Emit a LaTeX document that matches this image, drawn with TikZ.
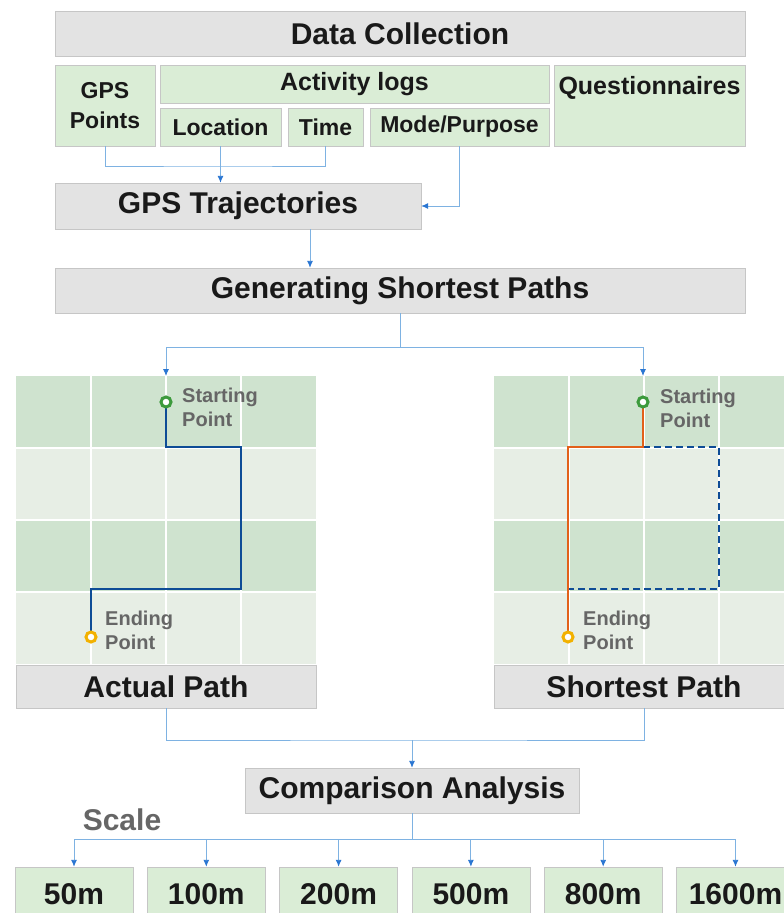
\documentclass[tikz,border=0pt]{standalone}
\usepackage{fontspec}
\setmainfont{Liberation Sans}
\usetikzlibrary{arrows.meta}

\definecolor{boxgray}{HTML}{E3E3E3}
\definecolor{boxline}{HTML}{C6C6C6}
\definecolor{boxgreen}{HTML}{DAEDD6}
\definecolor{griddark}{HTML}{CFE3CF}
\definecolor{gridlight}{HTML}{E7EEE5}
\definecolor{linkblue}{HTML}{7EB2E2}
\definecolor{tipblue}{HTML}{2A76D2}
\definecolor{pathblue}{HTML}{0E4C96}
\definecolor{pathorange}{HTML}{E2601A}
\definecolor{startgreen}{HTML}{3C9A3C}
\definecolor{endyellow}{HTML}{F2B100}
\definecolor{labelgray}{HTML}{666666}

\begin{document}
\begin{tikzpicture}[x=1pt, y=-1pt]
  \tikzstyle{head}=[draw=boxline, fill=boxgray, inner sep=0pt, text=black!90, font=\fontsize{30}{34}\selectfont\bfseries]
  \tikzstyle{sub}=[draw=boxline, fill=boxgreen, inner sep=0pt, text=black!90, font=\fontsize{23}{30}\selectfont\bfseries]
  \tikzstyle{link}=[draw=linkblue, line width=0.9pt]
  \tikzstyle{tip}=[-{Latex[color=tipblue, length=7pt, width=6pt]}]
  \tikzstyle{ptlabel}=[inner sep=0pt, align=left, text=labelgray, font=\fontsize{20}{24}\selectfont\bfseries]
  \tikzstyle{startpt}=[circle, draw=startgreen, fill=white, line width=3pt, minimum size=10pt, inner sep=0pt]
  \tikzstyle{endpt}=[circle, draw=endyellow, fill=white, line width=3pt, minimum size=10pt, inner sep=0pt]

  \clip (0,0) rectangle (784,913);

  % data collection
  \node[head, minimum width=690, minimum height=45] (collect) at (400,33.5) {Data Collection};
  \node[sub, minimum width=100, minimum height=81, align=center] (gps) at (105,105.5) {GPS\\Points};
  \node[sub, minimum width=389, minimum height=38, font=\fontsize{25}{30}\selectfont\bfseries] (logs) at (354.5,84) {Activity logs};
  \node[sub, minimum width=121, minimum height=38] (location) at (220.5,127) {Location};
  \node[sub, minimum width=75,  minimum height=38] (time)     at (325.5,127) {Time};
  \node[sub, minimum width=179, minimum height=38] (mode)     at (459.5,127) {Mode/Purpose};
  \node[sub, minimum width=191, inner ysep=4pt, text height=25, text depth=48,
        font=\fontsize{25}{30}\selectfont\bfseries] (quest) at (649.5,105.5) {Questionnaires};

  \node[head, minimum width=366, minimum height=46] (traj)     at (238,206)   {GPS Trajectories};
  \node[head, minimum width=690, minimum height=45] (shortest) at (400,290.5) {Generating Shortest Paths};

  \coordinate (j1) at (220.5,166);
  \draw[link] (gps.south) |- (j1) -| (time.south);
  \draw[link, tip] (location.south) -- (location.south |- traj.north);
  \draw[link, tip] (mode.south) |- (traj.east);
  \draw[link, tip] ([xshift=72]traj.south) -- ([xshift=72]traj.south |- shortest.north);

  % grids
  \foreach \gx in {16,494} {
    \foreach \r in {0,...,3} {
      \pgfmathparse{mod(\r,2)==0 ? "griddark" : "gridlight"}
      \fill[\pgfmathresult] (\gx,376+72*\r) rectangle (\gx+300,376+72*\r+72);
    }
    \foreach \c in {1,2,3}
      \draw[white, line width=1.5pt] (\gx+75*\c,376) -- (\gx+75*\c,664);
    \foreach \r in {1,2,3}
      \draw[white, line width=1.5pt] (\gx,376+72*\r) -- (\gx+300,376+72*\r);
  }

  \coordinate (lefttop)  at (166,376);
  \coordinate (righttop) at (643,376);
  \coordinate (j2) at (400,347);
  \draw[link] (shortest.south) -- (j2);
  \draw[link, tip] (j2) -| (lefttop);
  \draw[link, tip] (j2) -| (righttop);

  % actual path
  \coordinate (start1) at (166,402);
  \coordinate (end1)   at (91,637);
  \draw[pathblue, line width=2.2pt] (start1) |- (241,447) |- (91,589) -- (end1);
  \node[startpt] (s1) at (start1) {};
  \node[endpt]   (e1) at (end1)   {};
  \node[ptlabel, anchor=north west] (slabel1) at (182,388) {Starting\\Point};
  \node[ptlabel, anchor=north west] (elabel1) at (105,611) {Ending\\Point};

  % shortest path
  \coordinate (start2) at (643,402);
  \coordinate (end2)   at (568,637);
  \draw[pathblue, line width=2.2pt, dash pattern=on 7pt off 4pt] (643,447) -| (719,589) -- (568,589);
  \draw[pathorange, line width=2.2pt] (start2) |- (568,447) -- (end2);
  \node[startpt] (s2) at (start2) {};
  \node[endpt]   (e2) at (end2)   {};
  \node[ptlabel, anchor=north west] (slabel2) at (660,389) {Starting\\Point};
  \node[ptlabel, anchor=north west] (elabel2) at (583,611) {Ending\\Point};

  \node[head, minimum width=300, minimum height=43] (actual)   at (166,686.5) {Actual Path};
  \node[head, minimum width=300, minimum height=43] (shortbox) at (644,686.5) {Shortest Path};

  % comparison
  \node[head, minimum width=334, minimum height=45] (compare) at (412,790.5) {Comparison Analysis};
  \coordinate (j3) at (412,740);
  \draw[link] (actual.south) |- (j3) -| (shortbox.south);
  \draw[link, tip] (j3) -- (compare.north);

  \node[text=labelgray, inner sep=0pt, font=\fontsize{30}{34}\selectfont\bfseries] (scale) at (122,820) {Scale};

  \coordinate (j4) at (412,839);
  \draw[link] (compare.south) -- (j4);
  \foreach \lbl [count=\i from 0] in {50m,100m,200m,500m,800m,1600m} {
    \node[sub, minimum width=118, minimum height=54, font=\fontsize{30}{34}\selectfont\bfseries] (m\i) at (74+132.3*\i,894) {\lbl};
    \draw[link, tip] (j4) -| (m\i.north);
  }
\end{tikzpicture}
\end{document}
